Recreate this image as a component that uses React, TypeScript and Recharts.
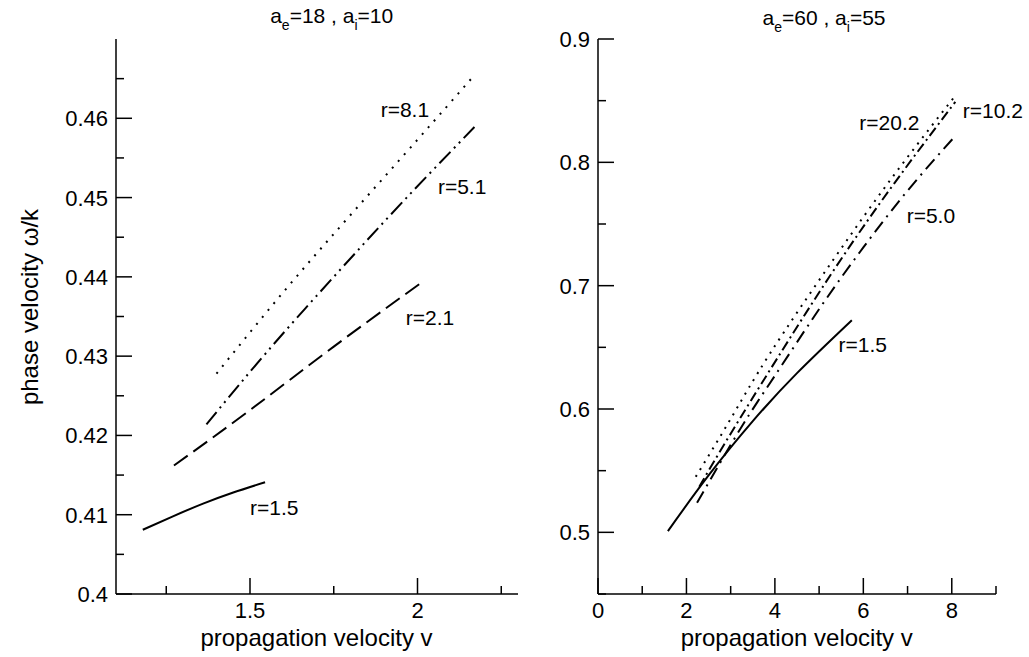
import React from "react";
import { LineChart, Line, XAxis, YAxis, ReferenceDot } from "recharts";

const FONT = "'Liberation Sans', Arial, Helvetica, sans-serif";

// ---- left panel: a_e=18, a_i=10 ----
const leftXTicks = [1.25, 1.5, 1.75, 2, 2.25];
const leftXLabels = [1.5, 2];
const leftYTicks = [0.4, 0.405, 0.41, 0.415, 0.42, 0.425, 0.43, 0.435, 0.44, 0.445, 0.45, 0.455, 0.46, 0.465];
const leftYLabels = [0.4, 0.41, 0.42, 0.43, 0.44, 0.45, 0.46];

const leftR15V = [1.18, 1.27, 1.36, 1.45, 1.545];
const leftR15W = [0.4081, 0.4098, 0.4114, 0.4128, 0.4141];
const leftR21V = [1.273, 1.5, 1.75, 2.019];
const leftR21W = [0.4162, 0.4232, 0.4312, 0.4395];
const leftR51V = [1.37, 1.55, 1.75, 1.95, 2.17];
const leftR51W = [0.4214, 0.4305, 0.44, 0.4492, 0.4589];
const leftR81V = [1.4, 1.6, 1.8, 2.0, 2.163];
const leftR81W = [0.4278, 0.4381, 0.4478, 0.4573, 0.4651];

// ---- right panel: a_e=60, a_i=55 ----
const rightXTicks = [0, 1, 2, 3, 4, 5, 6, 7, 8, 9];
const rightXLabels = [0, 2, 4, 6, 8];
const rightYTicks = [0.45, 0.5, 0.55, 0.6, 0.65, 0.7, 0.75, 0.8, 0.85, 0.9];
const rightYLabels = [0.5, 0.6, 0.7, 0.8, 0.9];

const rightR15V = [1.58, 2.5, 3.5, 4.5, 5.74];
const rightR15W = [0.501, 0.5461, 0.5901, 0.6291, 0.672];
const rightR50V = [2.24, 3.22, 4.0, 5.02, 6.0, 7.0, 8.07];
const rightR50W = [0.524, 0.584, 0.627, 0.682, 0.731, 0.777, 0.821];
const rightR102V = [2.29, 3.0, 4.0, 5.32, 6.7, 8.08];
const rightR102W = [0.537, 0.58, 0.638, 0.712, 0.783, 0.849];
const rightR202V = [2.21, 3.0, 3.89, 5.32, 6.7, 8.1];
const rightR202W = [0.545, 0.592, 0.645, 0.721, 0.79, 0.855];

const zip = (xs: number[], ys: number[]) => xs.map((x, i) => ({ x, y: ys[i] }));

function YTick(props: any) {
  const { x, y, payload, labels } = props;
  const major = labels.includes(payload.value);
  return (
    <g>
      <line x1={x} x2={x + (major ? 16 : 8)} y1={y} y2={y} stroke="#000" strokeWidth={1.5} />
      {major && (
        <text x={x - 8} y={y + 8} textAnchor="end" fontSize={22} fontFamily={FONT} fill="#000">
          {payload.value}
        </text>
      )}
    </g>
  );
}

function XTick(props: any) {
  const { x, y, payload, labels } = props;
  const major = labels.includes(payload.value);
  return (
    <g>
      <line x1={x} x2={x} y1={y} y2={y - (major ? 16 : 8)} stroke="#000" strokeWidth={1.5} />
      {major && (
        <text x={x} y={y + 24} textAnchor="middle" fontSize={22} fontFamily={FONT} fill="#000">
          {payload.value}
        </text>
      )}
    </g>
  );
}

function Anno(props: any) {
  const { viewBox, text } = props;
  return (
    <text x={viewBox.x} y={viewBox.y} fontSize={21} fontFamily={FONT} fill="#000">
      {text}
    </text>
  );
}

const axisLine = { stroke: "#000", strokeWidth: 1.5 };

export default function App() {
  return (
    <div style={{ position: "absolute", left: 0, top: 0, width: 1029, height: 657, background: "#fff" }}>
      <div style={{ position: "absolute", left: 0, top: 0 }}>
        <LineChart width={520} height={657} margin={{ top: 39, right: 2, bottom: 0, left: 0 }}>
          <XAxis
            type="number"
            dataKey="x"
            domain={[1.1, 2.3]}
            ticks={leftXTicks}
            interval={0}
            allowDataOverflow
            height={63}
            tickSize={0}
            tickMargin={0}
            tickLine={false}
            axisLine={axisLine}
            tick={<XTick labels={leftXLabels} />}
          />
          <YAxis
            type="number"
            domain={[0.4, 0.47]}
            ticks={leftYTicks}
            interval={0}
            allowDataOverflow
            width={116}
            tickSize={0}
            tickMargin={0}
            tickLine={false}
            axisLine={axisLine}
            tick={<YTick labels={leftYLabels} />}
          />
          <Line data={zip(leftR15V, leftR15W)} dataKey="y" type="natural" stroke="#000" strokeWidth={2} dot={false} activeDot={false} isAnimationActive={false} />
          <Line data={zip(leftR21V, leftR21W)} dataKey="y" type="natural" stroke="#000" strokeWidth={2} strokeDasharray="17 7" dot={false} activeDot={false} isAnimationActive={false} />
          <Line data={zip(leftR51V, leftR51W)} dataKey="y" type="natural" stroke="#000" strokeWidth={2} strokeDasharray="16 5 2 5 2 5" dot={false} activeDot={false} isAnimationActive={false} />
          <Line data={zip(leftR81V, leftR81W)} dataKey="y" type="natural" stroke="#000" strokeWidth={2} strokeDasharray="2 7" dot={false} activeDot={false} isAnimationActive={false} />
          <ReferenceDot x={1.89} y={0.4602} r={0} fill="none" stroke="none" label={<Anno text="r=8.1" />} />
          <ReferenceDot x={2.061} y={0.4505} r={0} fill="none" stroke="none" label={<Anno text="r=5.1" />} />
          <ReferenceDot x={1.965} y={0.4339} r={0} fill="none" stroke="none" label={<Anno text="r=2.1" />} />
          <ReferenceDot x={1.5} y={0.41} r={0} fill="none" stroke="none" label={<Anno text="r=1.5" />} />
        </LineChart>
      </div>
      <div style={{ position: "absolute", left: 520, top: 0 }}>
        <LineChart width={509} height={657} margin={{ top: 39, right: 33, bottom: 0, left: 0 }}>
          <XAxis
            type="number"
            dataKey="x"
            domain={[0, 9]}
            ticks={rightXTicks}
            interval={0}
            allowDataOverflow
            height={63}
            tickSize={0}
            tickMargin={0}
            tickLine={false}
            axisLine={axisLine}
            tick={<XTick labels={rightXLabels} />}
          />
          <YAxis
            type="number"
            domain={[0.45, 0.9]}
            ticks={rightYTicks}
            interval={0}
            allowDataOverflow
            width={78}
            tickSize={0}
            tickMargin={0}
            tickLine={false}
            axisLine={axisLine}
            tick={<YTick labels={rightYLabels} />}
          />
          <Line data={zip(rightR15V, rightR15W)} dataKey="y" type="natural" stroke="#000" strokeWidth={2} dot={false} activeDot={false} isAnimationActive={false} />
          <Line data={zip(rightR50V, rightR50W)} dataKey="y" type="natural" stroke="#000" strokeWidth={2} strokeDasharray="13 6 2 6" dot={false} activeDot={false} isAnimationActive={false} />
          <Line data={zip(rightR102V, rightR102W)} dataKey="y" type="natural" stroke="#000" strokeWidth={2} strokeDasharray="10 4 2 4" dot={false} activeDot={false} isAnimationActive={false} />
          <Line data={zip(rightR202V, rightR202W)} dataKey="y" type="natural" stroke="#000" strokeWidth={2} strokeDasharray="2 6" dot={false} activeDot={false} isAnimationActive={false} />
          <ReferenceDot x={5.91} y={0.8263} r={0} fill="none" stroke="none" label={<Anno text="r=20.2" />} />
          <ReferenceDot x={8.25} y={0.8358} r={0} fill="none" stroke="none" label={<Anno text="r=10.2" />} />
          <ReferenceDot x={6.98} y={0.7506} r={0} fill="none" stroke="none" label={<Anno text="r=5.0" />} />
          <ReferenceDot x={5.44} y={0.6465} r={0} fill="none" stroke="none" label={<Anno text="r=1.5" />} />
        </LineChart>
      </div>
      <svg width={1029} height={657} style={{ position: "absolute", left: 0, top: 0, pointerEvents: "none" }} fontFamily={FONT} fill="#000">
        <text x={331.7} y={22.5} textAnchor="middle" fontSize={21}>
          a<tspan fontSize={14} dy={7}>e</tspan>
          <tspan dy={-7}>=18 , a</tspan>
          <tspan fontSize={14} dy={7}>i</tspan>
          <tspan dy={-7}>=10</tspan>
        </text>
        <text x={824} y={25} textAnchor="middle" fontSize={21}>
          a<tspan fontSize={14} dy={7}>e</tspan>
          <tspan dy={-7}>=60 , a</tspan>
          <tspan fontSize={14} dy={7}>i</tspan>
          <tspan dy={-7}>=55</tspan>
        </text>
        <text x={316.5} y={646} textAnchor="middle" fontSize={24}>propagation velocity v</text>
        <text x={796.7} y={646} textAnchor="middle" fontSize={24}>propagation velocity v</text>
        <text x={38} y={307} textAnchor="middle" fontSize={24} transform="rotate(-90, 38, 307)">
          phase velocity ω/k
        </text>
      </svg>
    </div>
  );
}
